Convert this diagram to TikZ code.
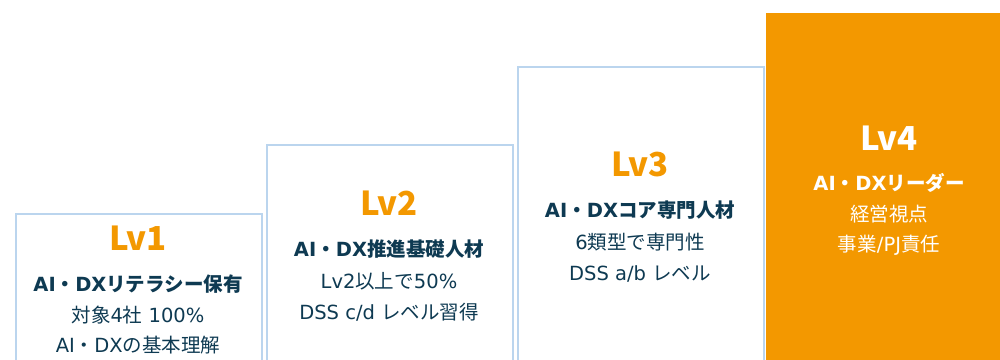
\documentclass[tikz,border=0pt]{standalone}
\usepackage{fontspec}
\setmainfont{Noto Sans CJK JP}
\newfontfamily\latf{DejaVu Sans}
\newcommand\lt[1]{{\latf #1}}
\definecolor{lvorange}{HTML}{F39800}
\definecolor{navy}{HTML}{0E3A52}
\definecolor{lightblue}{HTML}{BBD5EE}
\begin{document}
\begin{tikzpicture}[x=1pt,y=1pt,
  stepbox/.style={draw=lightblue,line width=2pt,fill=white,anchor=north west,minimum width=246pt,minimum height=400pt,inner sep=0pt},
  topbox/.style={fill=lvorange,anchor=north west,minimum width=246pt,minimum height=400pt,inner sep=0pt},
  lvtext/.style={anchor=base,inner sep=0pt,font=\fontsize{33}{36}\selectfont\bfseries,text=lvorange},
  titletext/.style={anchor=base,inner sep=0pt,font=\fontsize{19.5}{24}\selectfont\bfseries,text=navy},
  bodytext/.style={anchor=base,inner sep=0pt,font=\fontsize{19.5}{23}\selectfont,text=navy}]
\useasboundingbox (0,0) rectangle (1000,359);
\clip (0,0) rectangle (1000,359);
\node[stepbox] (box1) at (15,146) {};
\node[stepbox] (box2) at (266,215) {};
\node[stepbox] (box3) at (517,293) {};
\node[topbox] (box4) at (766,346) {};
% Lv1
\node[lvtext] (lv1) at (138,109) {Lv1};
\node[titletext] (t1) at (138,68) {\lt{AI}・\lt{DX}リテラシー保有};
\node[bodytext] (a1) at (138,37) {対象\lt{4}社\lt{ 100\%}};
\node[bodytext] (b1) at (138,7) {\lt{AI}・\lt{DX}の基本理解};
% Lv2
\node[lvtext] (lv2) at (389,144) {Lv2};
\node[titletext] (t2) at (389,103) {\lt{AI}・\lt{DX}推進基礎人材};
\node[bodytext] (a2) at (389,71) {\lt{Lv2}以上で\lt{50\%}};
\node[bodytext] (b2) at (389,40) {\lt{DSS c/d }レベル習得};
% Lv3
\node[lvtext] (lv3) at (640,182) {Lv3};
\node[titletext] (t3) at (640,142) {\lt{AI}・\lt{DX}コア専門人材};
\node[bodytext] (a3) at (640,110) {\lt{6}類型で専門性};
\node[bodytext] (b3) at (640,79) {\lt{DSS a/b }レベル};
% Lv4
\node[lvtext,text=white] (lv4) at (889,208) {Lv4};
\node[titletext,text=white] (t4) at (889,168) {\lt{AI}・\lt{DX}リーダー};
\node[bodytext,text=white] (a4) at (889,138) {経営視点};
\node[bodytext,text=white] (b4) at (889,108) {事業\lt{/PJ}責任};
\end{tikzpicture}
\end{document}
